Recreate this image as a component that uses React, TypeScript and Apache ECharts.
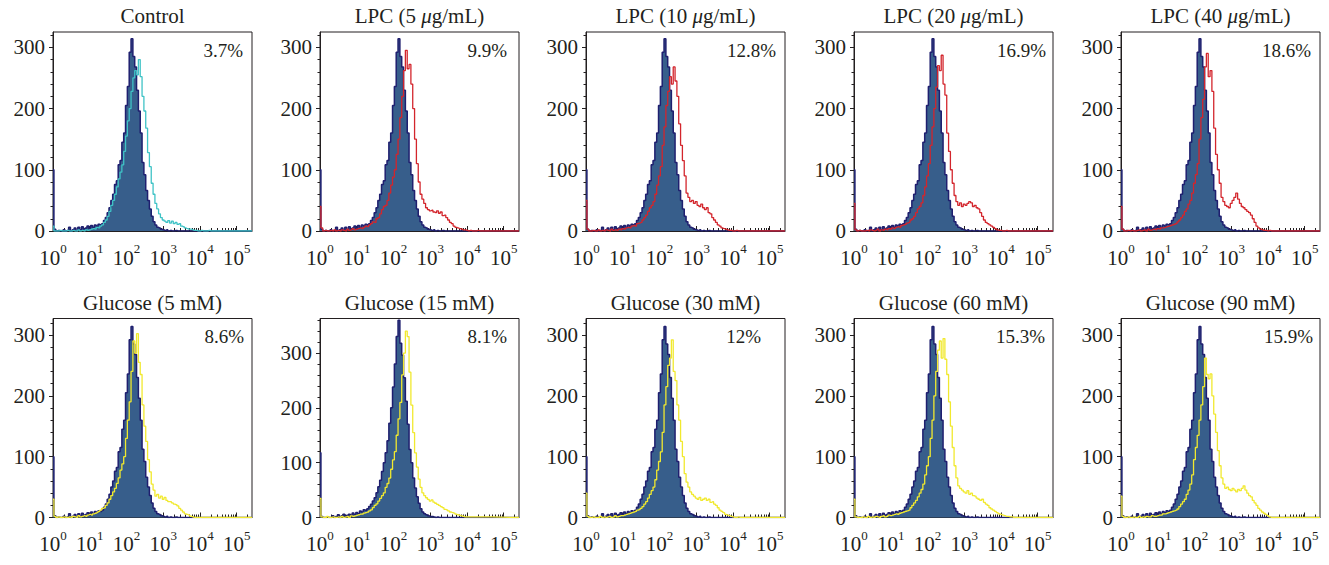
import React, { useEffect, useRef } from "react";
import * as echarts from "echarts";

// ---------- data ----------
// histogram bins: position i -> log10(fluorescence) = i * LOG_STEP
const LOG_STEP = 0.05;
const X_MAX = Math.log10(262144);
const X_MAJOR = [0, 1, 2, 3, 4, 5];
const Y_TICKS = [0, 100, 200, 300];

const CTRL_A = [
  100, 3, 0, 1, 0, 0, 2, 0, 1, 6,
  0, 2, 5, 1, 6, 2, 7, 3, 5, 8,
  4, 9, 6, 10, 8, 11, 10, 12, 17, 22,
  30, 38, 50, 60, 76, 82, 108, 115, 145, 160,
  205, 236, 292, 314, 285, 268, 230, 196, 160, 112,
  92, 66, 50, 36, 24, 15, 10, 6, 5, 3,
  2, 1, 2, 0, 1, 0, 0, 1, 0, 0,
];
const CTRL_B = [
  118, 2, 0, 0, 1, 0, 0, 3, 0, 2,
  5, 0, 3, 6, 1, 4, 6, 2, 8, 5,
  9, 7, 12, 10, 14, 13, 16, 20, 24, 30,
  36, 45, 56, 68, 84, 100, 118, 140, 172, 200,
  238, 280, 330, 360, 318, 296, 255, 212, 170, 124,
  100, 72, 54, 38, 26, 16, 10, 7, 5, 3,
  2, 2, 1, 0, 1, 0, 0, 0, 0, 0,
];
const CYAN = [
  8, 0, 0, 0, 1, 0, 0, 0, 1, 0,
  0, 1, 0, 0, 2, 0, 1, 0, 2, 1,
  2, 3, 4, 3, 6, 5, 8, 10, 14, 18,
  24, 32, 42, 50, 60, 72, 85, 96, 108, 130,
  155, 180, 200, 228, 250, 262, 255, 280, 252, 220,
  196, 168, 128, 105, 78, 60, 45, 36, 28, 22,
  18, 16, 14, 17, 13, 16, 12, 14, 11, 12,
  8, 7, 5, 4, 3, 3, 2, 1, 1, 0,
  0, 1, 0, 0, 0, 1, 0, 0, 0, 0,
];
const RED_5 = [
  40, 5, 0, 1, 0, 0, 1, 0, 2, 0,
  1, 0, 2, 1, 0, 3, 1, 2, 4, 2,
  3, 4, 5, 4, 6, 8, 7, 10, 12, 15,
  14, 20, 22, 28, 35, 40, 42, 50, 62, 75,
  88, 100, 125, 150, 185, 220, 262, 295, 265, 272,
  240, 200, 150, 110, 80, 60, 52, 45, 38, 35,
  33, 34, 31, 30, 33, 29, 31, 25, 26, 22,
  18, 14, 12, 8, 6, 5, 4, 3, 2, 2,
  1, 0, 1, 0, 0, 0, 1, 0, 0, 0,
];
const RED_10 = [
  50, 3, 0, 0, 1, 0, 0, 2, 0, 1,
  0, 2, 1, 0, 3, 1, 2, 1, 3, 2,
  4, 3, 5, 6, 5, 8, 9, 8, 12, 13,
  14, 18, 22, 26, 32, 38, 42, 48, 60, 75,
  90, 105, 140, 170, 205, 228, 252, 240, 268, 245,
  220, 175, 140, 115, 90, 62, 55, 48, 50, 45,
  48, 42, 40, 44, 38, 35, 38, 30, 28, 22,
  18, 14, 10, 8, 5, 4, 3, 2, 1, 1,
  0, 0, 1, 0, 0, 0, 0, 0, 0, 0,
];
const RED_20 = [
  45, 2, 0, 1, 0, 0, 0, 1, 0, 2,
  1, 0, 1, 3, 0, 2, 1, 3, 2, 4,
  3, 5, 4, 6, 7, 6, 9, 10, 11, 13,
  14, 18, 20, 24, 30, 36, 40, 46, 58, 72,
  90, 110, 140, 170, 200, 235, 270, 262, 287, 240,
  222, 160, 130, 100, 78, 58, 48, 42, 46, 40,
  44, 42, 45, 48, 46, 40, 42, 38, 36, 30,
  24, 18, 14, 12, 10, 8, 6, 4, 2, 1,
  1, 0, 0, 1, 0, 0, 0, 0, 0, 0,
];
const RED_40 = [
  40, 3, 0, 0, 1, 0, 1, 0, 0, 1,
  2, 0, 1, 2, 0, 3, 1, 2, 3, 2,
  4, 3, 5, 5, 6, 7, 8, 9, 10, 11,
  12, 15, 18, 22, 26, 32, 36, 44, 50, 62,
  78, 92, 110, 150, 185, 215, 268, 290, 252, 262,
  228, 168, 125, 100, 78, 55, 48, 42, 40, 38,
  45, 50, 55, 62, 52, 45, 40, 38, 35, 32,
  30, 26, 20, 14, 8, 5, 3, 2, 1, 1,
  0, 1, 0, 0, 0, 0, 0, 0, 0, 0,
];
const YEL_5 = [
  30, 2, 0, 1, 0, 0, 1, 0, 0, 1,
  0, 2, 1, 0, 3, 1, 2, 3, 2, 4,
  5, 4, 6, 7, 8, 10, 12, 15, 16, 20,
  24, 30, 36, 42, 48, 56, 65, 78, 88, 100,
  130, 160, 190, 240, 290, 270, 302, 255, 235, 185,
  150, 125, 95, 75, 55, 45, 35, 38, 32, 35,
  30, 33, 28, 26, 26, 24, 22, 21, 19, 15,
  12, 9, 6, 5, 4, 2, 1, 0, 0, 0,
];
const YEL_15 = [
  35, 1, 0, 0, 2, 0, 0, 1, 0, 0,
  1, 0, 2, 0, 1, 2, 0, 3, 2, 3,
  4, 5, 6, 6, 8, 9, 10, 12, 14, 18,
  22, 25, 30, 35, 40, 45, 55, 62, 72, 88,
  105, 120, 150, 180, 210, 260, 300, 340, 330, 265,
  205, 155, 118, 92, 70, 55, 45, 40, 36, 33,
  30, 32, 28, 26, 24, 22, 20, 18, 15, 14,
  12, 10, 9, 8, 6, 5, 4, 3, 2, 1,
];
const YEL_30 = [
  40, 2, 0, 0, 1, 0, 0, 0, 2, 0,
  1, 0, 1, 2, 0, 1, 3, 1, 2, 3,
  3, 4, 5, 6, 7, 8, 9, 10, 12, 13,
  15, 18, 22, 26, 32, 38, 44, 50, 62, 78,
  92, 108, 140, 185, 215, 250, 262, 292, 240, 225,
  185, 160, 125, 100, 72, 58, 50, 42, 38, 35,
  32, 30, 33, 28, 30, 32, 28, 30, 25, 26,
  22, 20, 16, 12, 10, 8, 5, 4, 3, 2,
  1, 0, 0, 1, 0, 0, 0, 0, 0, 0,
];
const YEL_60 = [
  30, 1, 0, 0, 0, 1, 0, 0, 2, 0,
  1, 0, 2, 1, 0, 2, 3, 1, 2, 4,
  3, 4, 5, 6, 5, 7, 8, 9, 10, 11,
  12, 16, 20, 24, 28, 34, 40, 46, 55, 70,
  85, 100, 130, 160, 200, 240, 275, 290, 262, 294,
  260, 235, 190, 150, 115, 85, 65, 52, 48, 45,
  42, 40, 44, 38, 40, 36, 35, 32, 30, 28,
  30, 25, 22, 20, 16, 14, 12, 10, 8, 6,
  5, 4, 3, 2, 2, 1, 1, 0, 0, 0,
];
const YEL_90 = [
  35, 2, 0, 0, 1, 0, 0, 1, 0, 0,
  2, 0, 1, 0, 2, 1, 1, 3, 2, 2,
  3, 4, 4, 6, 6, 7, 8, 9, 10, 11,
  12, 14, 18, 22, 26, 30, 38, 45, 55, 70,
  95, 115, 135, 160, 185, 215, 262, 235, 228, 236,
  200, 170, 140, 110, 85, 65, 55, 48, 50, 46,
  44, 48, 45, 42, 46, 44, 48, 52, 45, 40,
  36, 34, 28, 24, 20, 15, 12, 9, 7, 5,
  3, 1, 0, 0, 0, 0, 0, 0, 0, 0,
];

const PANEL_TITLES = [
  "Control",
  "LPC (5 μg/mL)",
  "LPC (10 μg/mL)",
  "LPC (20 μg/mL)",
  "LPC (40 μg/mL)",
  "Glucose (5 mM)",
  "Glucose (15 mM)",
  "Glucose (30 mM)",
  "Glucose (60 mM)",
  "Glucose (90 mM)",
];
const PANEL_PERCENTS = ["3.7%", "9.9%", "12.8%", "16.9%", "18.6%", "8.6%", "8.1%", "12%", "15.3%", "15.9%"];
const PANEL_CONTROL = [CTRL_A, CTRL_A, CTRL_A, CTRL_A, CTRL_A, CTRL_A, CTRL_B, CTRL_A, CTRL_A, CTRL_A];
const PANEL_SAMPLE = [CYAN, RED_5, RED_10, RED_20, RED_40, YEL_5, YEL_15, YEL_30, YEL_60, YEL_90];
const PANEL_Y_MAX = [325, 325, 325, 325, 325, 327, 363, 327, 327, 327];

// ---------- style / layout ----------
const CYAN_C = "#3fc3c6";
const RED_C = "#d3252c";
const YEL_C = "#f1e92e";
const PANEL_COLOR = [CYAN_C, RED_C, RED_C, RED_C, RED_C, YEL_C, YEL_C, YEL_C, YEL_C, YEL_C];
const NAVY = "#1f1f6f";
const FILL = "#375e8b";
const INK = "#231f20";
const FONT = '"Liberation Serif", "Times New Roman", serif';

const GRID_LEFT = [53, 320, 586, 854, 1121];
const GRID_TOP = [32, 318.5];
const GRID_W = 199;
const GRID_H = 199;
const PCT_INSET = [9, 12, 9, 7, 9, 8, 12, 24, 8, 7];

function toPoints(arr: number[]) {
  const pts: number[][] = arr.map((v, i) => [+(i * LOG_STEP).toFixed(3), v]);
  pts.push([X_MAX, 0]);
  return pts;
}

function titleRich(t: string) {
  const parts = t.split("μ");
  if (parts.length === 1) return `{n|${t}}`;
  return `{n|${parts[0]}}{i|μ}{n|${parts[1]}}`;
}

export default function App() {
  const ref = useRef<HTMLDivElement>(null);

  useEffect(() => {
    document.body.style.margin = "0";
    const chart = echarts.init(ref.current!, null, { renderer: "svg" });

    const minor: number[] = [];
    for (let k = 0; k <= 5; k++) {
      for (let m = 2; m <= 9; m++) {
        const v = k + Math.log10(m);
        if (v < X_MAX) minor.push(v);
      }
    }

    const grids: any[] = [];
    const xAxes: any[] = [];
    const yAxes: any[] = [];
    const series: any[] = [];
    const graphics: any[] = [];

    PANEL_TITLES.forEach((title, p) => {
      const row = Math.floor(p / 5);
      const col = p % 5;
      const left = GRID_LEFT[col];
      const top = GRID_TOP[row];
      grids.push({
        left,
        top,
        width: GRID_W,
        height: GRID_H,
        show: true,
        borderColor: INK,
        borderWidth: 1,
        backgroundColor: "transparent",
        containLabel: false,
        outerBoundsMode: "none",
      });
      xAxes.push({
        type: "value",
        gridIndex: p,
        min: 0,
        max: X_MAX,
        position: "bottom",
        axisLine: { show: true, onZero: false, lineStyle: { color: INK, width: 1 } },
        axisTick: { show: true, inside: true, length: 5, customValues: X_MAJOR, lineStyle: { color: INK } },
        axisLabel: {
          show: true,
          customValues: X_MAJOR,
          margin: 11,
          formatter: (v: number) => `{b|10}{s|${Math.round(v)}}`,
          rich: {
            b: { fontFamily: FONT, fontSize: 21, color: INK, lineHeight: 26, verticalAlign: "bottom" },
            s: { fontFamily: FONT, fontSize: 13, color: INK, lineHeight: 13, verticalAlign: "top" },
          },
        },
        splitLine: { show: false },
      });
      xAxes.push({
        type: "value",
        gridIndex: p,
        min: 0,
        max: X_MAX,
        position: "bottom",
        axisLine: { show: false, onZero: false },
        axisTick: { show: true, inside: true, length: 3, customValues: minor, lineStyle: { color: INK } },
        axisLabel: { show: false },
        splitLine: { show: false },
      });
      yAxes.push({
        type: "value",
        gridIndex: p,
        min: 0,
        max: PANEL_Y_MAX[p],
        interval: 100,
        axisLine: { show: true, lineStyle: { color: INK, width: 1 } },
        axisTick: { show: true, length: 4, customValues: Y_TICKS, lineStyle: { color: INK } },
        minorTick: { show: true, splitNumber: 5, length: 2.5, lineStyle: { color: INK } },
        axisLabel: {
          show: true,
          customValues: Y_TICKS,
          margin: 8,
          fontFamily: FONT,
          fontSize: 21,
          color: INK,
        },
        splitLine: { show: false },
      });
      series.push({
        type: "line",
        xAxisIndex: p * 2,
        yAxisIndex: p,
        data: toPoints(PANEL_CONTROL[p]),
        showSymbol: false,
        symbol: "none",
        step: "middle",
        lineStyle: { color: NAVY, width: 1.5 },
        areaStyle: { color: FILL, opacity: 1 },
        clip: true,
        z: 2,
      });
      series.push({
        type: "line",
        xAxisIndex: p * 2,
        yAxisIndex: p,
        data: toPoints(PANEL_SAMPLE[p]),
        showSymbol: false,
        symbol: "none",
        step: "middle",
        lineStyle: { color: PANEL_COLOR[p], width: 1.3 },
        clip: true,
        z: 3,
      });
      graphics.push({
        type: "text",
        x: left + GRID_W / 2,
        y: top - 16,
        style: {
          text: titleRich(title),
          align: "center",
          verticalAlign: "middle",
          rich: {
            n: { fontFamily: FONT, fontSize: 21, fill: INK },
            i: { fontFamily: FONT, fontSize: 21, fontStyle: "italic", fill: INK },
          },
        },
      });
      graphics.push({
        type: "text",
        x: left + GRID_W - PCT_INSET[p],
        y: top + 18,
        style: {
          text: PANEL_PERCENTS[p],
          align: "right",
          verticalAlign: "middle",
          fontFamily: FONT,
          fontSize: 19,
          fill: INK,
        },
      });
    });

    chart.setOption({
      animation: false,
      backgroundColor: "#ffffff",
      grid: grids,
      xAxis: xAxes,
      yAxis: yAxes,
      series,
      graphic: graphics,
    });

    return () => chart.dispose();
  }, []);

  return <div ref={ref} style={{ width: 1329, height: 565 }} />;
}
